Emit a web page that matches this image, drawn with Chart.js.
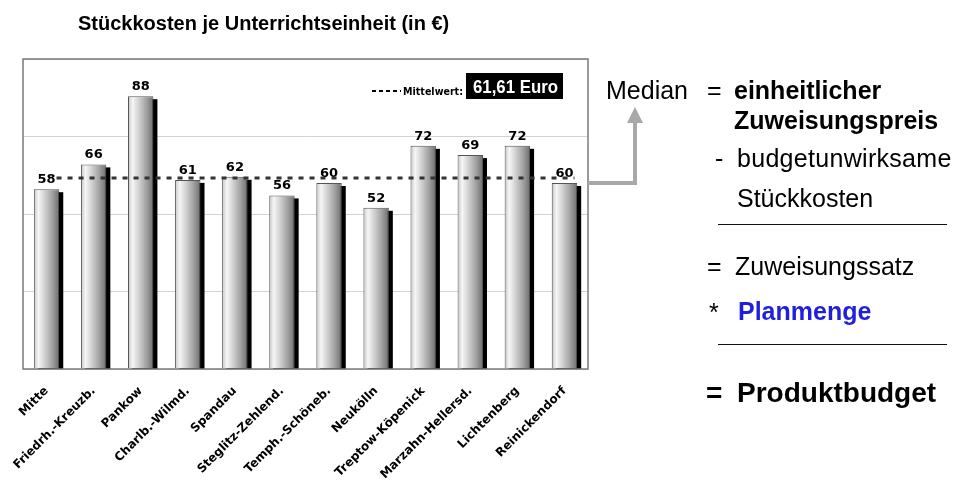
<!DOCTYPE html>
<html lang="de">
<head>
<meta charset="utf-8">
<title>Stückkosten je Unterrichtseinheit</title>
<script src="https://cdn.jsdelivr.net/npm/chart.js@4"></script>
<style>
  html, body { margin: 0; padding: 0; background: #fff; }
  #wrap { position: relative; width: 955px; height: 482px; overflow: hidden; }
  #costChart { position: absolute; left: 0; top: 0; }
  .t { position: absolute; white-space: nowrap; line-height: 1; font-family: "Liberation Sans", Arial, sans-serif; color: #000; }
  .b { font-weight: bold; }
  .rule { position: absolute; left: 718px; width: 229px; height: 0; border-top: 1.5px solid #111; }
  #arrow { position: absolute; left: 0; top: 0; }
</style>
</head>
<body>
<div id="wrap">
  <canvas id="costChart" width="955" height="482"></canvas>
  <svg id="arrow" width="955" height="482">
    <polyline points="588,183 635,183 635,121" fill="none" stroke="#a8a8a8" stroke-width="4" />
    <polygon points="627,123 643,123 635,107" fill="#a8a8a8" />
  </svg>

  <div class="t b" style="left:78px; top:13px; font-size:20px;">Stückkosten je Unterrichtseinheit (in €)</div>

  <div class="t" style="left:606px; top:78px; font-size:25px;">Median</div>
  <div class="t" style="left:707px; top:78px; font-size:25px;">=</div>
  <div class="t b" style="left:734px; top:78px; font-size:25px;">einheitlicher</div>
  <div class="t b" style="left:734px; top:108px; font-size:25px;">Zuweisungspreis</div>
  <div class="t" style="left:715px; top:146px; font-size:25px;">-</div>
  <div class="t" style="left:737px; top:146px; font-size:25px; letter-spacing:0.3px;">budgetunwirksame</div>
  <div class="t" style="left:737px; top:186px; font-size:25px;">Stückkosten</div>
  <div class="rule" style="top:224px;"></div>
  <div class="t" style="left:707px; top:254px; font-size:25px;">=</div>
  <div class="t" style="left:735px; top:254px; font-size:25px;">Zuweisungssatz</div>
  <div class="t" style="left:709px; top:300px; font-size:25px;">*</div>
  <div class="t b" style="left:738px; top:299px; font-size:25px; color:#1f1fdc;">Planmenge</div>
  <div class="rule" style="top:344px;"></div>
  <div class="t b" style="left:706px; top:379px; font-size:28px;">=</div>
  <div class="t b" style="left:737px; top:379px; font-size:28px;">Produktbudget</div>
</div>

<script>
const districts = ['Mitte', 'Friedrh.-Kreuzb.', 'Pankow', 'Charlb.-Wilmd.', 'Spandau', 'Steglitz-Zehlend.',
  'Temph.-Schöneb.', 'Neukölln', 'Treptow-Köpenick', 'Marzahn-Hellersd.', 'Lichtenberg', 'Reinickendorf'];
const unitCosts = [58, 66, 88, 61, 62, 56, 60, 52, 72, 69, 72, 60];
const meanValue = 61.61;
const meanLabel = '61,61 Euro';
const yTicks = [0, 25, 50, 75, 100];

const CAT_PCT = 0.6;
const BAR_PCT = 0.9;
const SHADOW_X = 4;
const SHADOW_Y = 3;

// horizontal shading so the bars look like little cylinders
const barFill = (ctx) => {
  const chart = ctx.chart;
  const { chartArea, scales } = chart;
  if (!chartArea || !scales.x) return '#cccccc';
  const half = (chartArea.width / districts.length) * CAT_PCT * BAR_PCT / 2;
  const cx = scales.x.getPixelForTick(ctx.dataIndex);
  const g = chart.ctx.createLinearGradient(cx - half, 0, cx + half, 0);
  g.addColorStop(0, '#c4c4c4');
  g.addColorStop(0.18, '#f6f6f6');
  g.addColorStop(0.42, '#d2d2d2');
  g.addColorStop(0.72, '#a2a2a2');
  g.addColorStop(1, '#6e6e6e');
  return g;
};

const shadowPlugin = {
  id: 'barShadow',
  beforeDatasetsDraw(chart) {
    const { ctx } = chart;
    const bottom = chart.scales.y.getPixelForValue(0);
    ctx.save();
    ctx.fillStyle = '#000';
    chart.getDatasetMeta(0).data.forEach((bar) => {
      const left = bar.x - bar.width / 2 + SHADOW_X;
      const top = bar.y + SHADOW_Y;
      ctx.fillRect(left, top, bar.width, bottom - top);
    });
    ctx.restore();
  }
};

const overlayPlugin = {
  id: 'overlay',
  afterDatasetsDraw(chart) {
    const { ctx, chartArea } = chart;
    const bars = chart.getDatasetMeta(0).data;
    const yMean = chart.scales.y.getPixelForValue(meanValue);

    ctx.save();
    // dashed mean line across the bars
    ctx.strokeStyle = '#333';
    ctx.lineWidth = 3;
    ctx.setLineDash([5, 6]);
    ctx.beginPath();
    ctx.moveTo(bars[0].x + 10, yMean);
    ctx.lineTo(bars[bars.length - 1].x + 10, yMean);
    ctx.stroke();

    // value labels
    ctx.setLineDash([]);
    ctx.fillStyle = '#000';
    ctx.font = 'bold 13px "DejaVu Sans", Verdana, sans-serif';
    ctx.textAlign = 'center';
    ctx.textBaseline = 'alphabetic';
    bars.forEach((bar, i) => {
      ctx.fillText(String(unitCosts[i]), bar.x, bar.y - 6);
    });

    // legend for the mean line
    ctx.strokeStyle = '#000';
    ctx.lineWidth = 2;
    ctx.setLineDash([4, 3]);
    ctx.beginPath();
    ctx.moveTo(372, 91);
    ctx.lineTo(401, 91);
    ctx.stroke();
    ctx.setLineDash([]);
    ctx.textAlign = 'left';
    ctx.font = 'bold 11px "DejaVu Sans", Verdana, sans-serif';
    ctx.fillText('Mittelwert:', 403, 95, 60);
    ctx.fillRect(466, 73, 97, 26);
    ctx.fillStyle = '#fff';
    ctx.font = 'bold 18px "Liberation Sans Narrow", "Liberation Sans", Arial, sans-serif';
    ctx.fillText(meanLabel, 473, 93, 85);

    // plot frame
    ctx.strokeStyle = '#7a7a7a';
    ctx.lineWidth = 1.5;
    ctx.strokeRect(chartArea.left, chartArea.top, chartArea.width, chartArea.height);
    ctx.restore();
  }
};

new Chart(document.getElementById('costChart'), {
  type: 'bar',
  data: {
    labels: districts,
    datasets: [{
      label: 'Stückkosten',
      data: unitCosts,
      backgroundColor: barFill,
      borderColor: '#555',
      borderWidth: 1,
      categoryPercentage: CAT_PCT,
      barPercentage: BAR_PCT
    }]
  },
  options: {
    responsive: false,
    animation: false,
    layout: { padding: { left: 23, right: 367, top: 59, bottom: 0 } },
    plugins: {
      legend: { display: false },
      title: { display: false },
      tooltip: { enabled: false }
    },
    scales: {
      x: {
        grid: { display: false, drawTicks: false },
        border: { display: false },
        ticks: {
          color: '#000',
          font: { family: '"DejaVu Sans", Verdana, sans-serif', size: 12, weight: 'bold' },
          minRotation: 45,
          maxRotation: 45,
          autoSkip: false,
          padding: 15
        },
        afterFit: (scale) => { scale.height = 113; }
      },
      y: {
        min: yTicks[0],
        max: yTicks[yTicks.length - 1],
        afterBuildTicks: (scale) => { scale.ticks = yTicks.map((v) => ({ value: v })); },
        grid: { color: '#d2d2d2', lineWidth: 1, drawTicks: false },
        border: { display: false },
        ticks: { display: false },
        afterFit: (scale) => { scale.width = 0; }
      }
    }
  },
  plugins: [shadowPlugin, overlayPlugin]
});
</script>
</body>
</html>
